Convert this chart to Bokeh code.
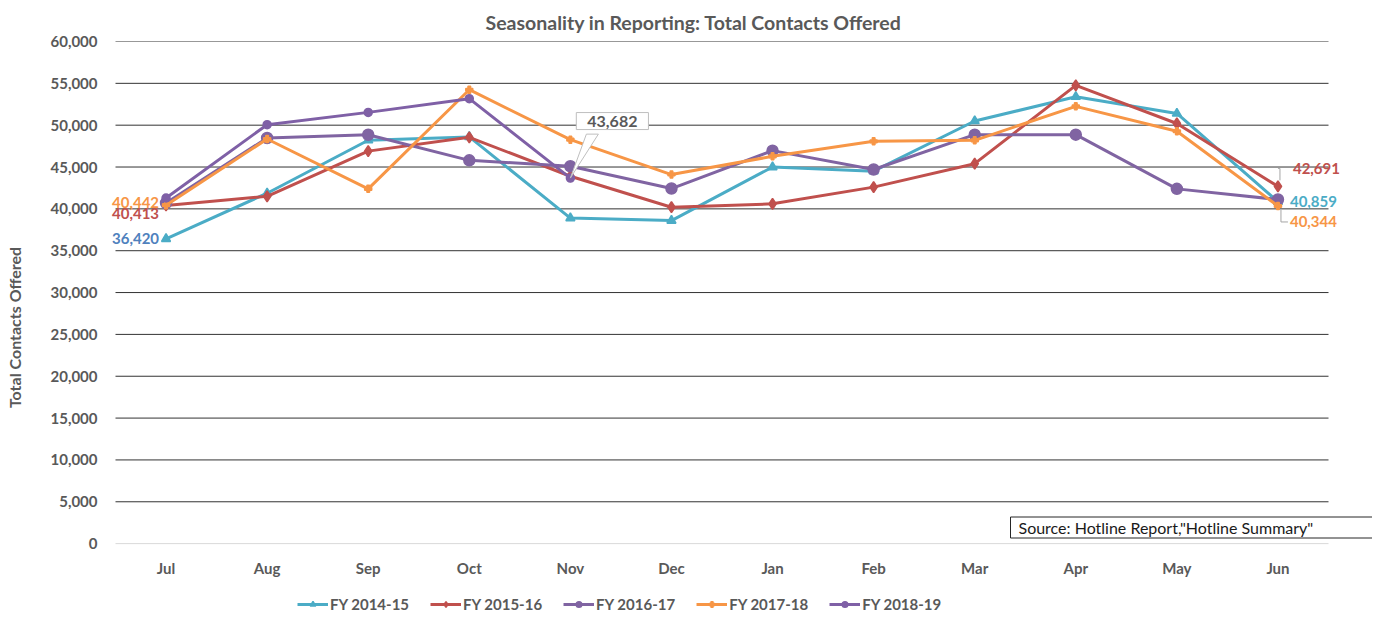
from bokeh.plotting import figure
from bokeh.models import Range1d, FixedTicker, Label, Legend, LegendItem, NumeralTickFormatter
from bokeh.embed import file_html
from bokeh.resources import INLINE

months = ["Jul", "Aug", "Sep", "Oct", "Nov", "Dec", "Jan", "Feb", "Mar", "Apr", "May", "Jun"]
fy1415 = [36420, 41870, 48200, 48600, 38900, 38600, 45000, 44500, 50500, 53400, 51400, 40859]
fy1516 = [40413, 41500, 46900, 48550, 43900, 40200, 40600, 42600, 45400, 54750, 50200, 42691]
fy1617 = [40700, 48470, 48860, 45800, 45090, 42430, 46960, 44700, 48870, 48870, 42390, 41120]
fy1718 = [40442, 48350, 42390, 54240, 48270, 44100, 46280, 48070, 48190, 52250, 49270, 40344]
fy1819 = [41300, 50060, 51530, 53170, 43682]
series_names = ["FY 2014-15", "FY 2015-16", "FY 2016-17", "FY 2017-18", "FY 2018-19"]
y_ticks = list(range(0, 60001, 5000))

TEAL = "#4BACC6"
RED = "#C0504D"
PURPLE = "#8064A2"
ORANGE = "#F79646"
PURPLE2 = "#7F60A6"
GRAY = "#595959"
FONT = "Lato"

# pixel scales of the plotting area (used only for pixel-sized offsets)
PX_X = 1213 / 12.0          # px per month
PY = 60000 / 503.0          # data units per px
ppx = 1.0 / PX_X

FRAME_LEFT = 103
x_lo = -0.5 - (115 - FRAME_LEFT) * ppx
x_hi = 11.5 + (1372 - 1328) * ppx
y_lo = -(613 - 543) * PY

p = figure(width=1372, height=613, x_range=Range1d(x_lo, x_hi), y_range=Range1d(y_lo, 60000),
           output_backend="svg", toolbar_location=None,
           min_border_left=FRAME_LEFT, min_border_right=0, min_border_top=40, min_border_bottom=0)
p.outline_line_color = None
p.background_fill_color = "white"

p.title.text = "Seasonality in Reporting: Total Contacts Offered"
p.title.align = "left"
p.title.offset = 382
p.title.text_font = FONT
p.title.text_font_size = "19.5px"
p.title.text_font_style = "bold"
p.title.text_color = GRAY
p.title.standoff = 16

p.xaxis.visible = False
p.xgrid.visible = False
p.ygrid.visible = False

p.yaxis.ticker = FixedTicker(ticks=y_ticks)
p.yaxis.formatter = NumeralTickFormatter(format="0,0")
p.yaxis.major_tick_line_color = None
p.yaxis.minor_tick_line_color = None
p.yaxis.axis_line_color = None
p.yaxis.major_label_standoff = 0
p.yaxis.major_label_text_font = FONT
p.yaxis.major_label_text_font_size = "15px"
p.yaxis.major_label_text_font_style = "bold"
p.yaxis.major_label_text_color = GRAY
p.yaxis.axis_label = "Total Contacts Offered"
p.yaxis.axis_label_text_font = FONT
p.yaxis.axis_label_text_font_size = "16px"
p.yaxis.axis_label_text_font_style = "bold"
p.yaxis.axis_label_text_color = GRAY
p.yaxis.axis_label_standoff = 23

x = list(range(len(months)))

# gridlines across the plotting area and the zero baseline
p.segment(x0=[-0.5] * (len(y_ticks) - 1), x1=[11.5] * (len(y_ticks) - 1),
          y0=y_ticks[1:], y1=y_ticks[1:], line_color="#333333", line_width=1)
p.segment(x0=[-0.5], x1=[11.5], y0=[0], y1=[0], line_color="#D9D9D9", line_width=1)

# month labels (category axis)
p.text(x=x, y=[0] * len(x), text=months, y_offset=24, text_align="center",
       text_baseline="middle", text_font={"value": FONT}, text_font_size="15px",
       text_font_style="bold", text_color=GRAY)

items = []
specs = [
    (fy1415, TEAL, "triangle", 9, series_names[0]),
    (fy1516, RED, "diamond", 11, series_names[1]),
    (fy1617, PURPLE, "circle", 11, series_names[2]),
    (fy1718, ORANGE, "plus", 7, series_names[3]),
    (fy1819, PURPLE2, "circle", 8, series_names[4]),
]
for vals, col, mk, sz, name in specs:
    xs = x[:len(vals)]
    r = p.line(xs, vals, line_color=col, line_width=3)
    m = p.scatter(xs, vals, marker=mk, size=sz, fill_color=col, line_color=col, line_width=1.5)
    items.append(LegendItem(label=name, renderers=[r, m]))

legend = Legend(items=items, orientation="horizontal", location=(297 - FRAME_LEFT, 0),
                border_line_color=None, background_fill_alpha=0, padding=0, margin=0,
                spacing=21, glyph_width=31, glyph_height=14, label_height=14, label_standoff=2,
                label_text_font=FONT, label_text_font_size="15px",
                label_text_font_style="bold", label_text_color=GRAY)
p.add_layout(legend)

# callout pointer for the last FY 2018-19 value
xi = len(fy1819) - 1
yv = fy1819[-1]
p.patch([xi, xi + 16 * ppx, xi + 28 * ppx], [yv, yv + 44 * PY, yv + 44 * PY],
        fill_color="white", line_color="#BFBFBF", line_width=1)

def lab(xv, yv, text, col, dx, dy, align):
    p.add_layout(Label(x=xv, y=yv, text=text, x_offset=dx, y_offset=dy, text_align=align,
                       text_baseline="middle", text_font=FONT, text_font_size="15px",
                       text_font_style="bold", text_color=col))

lab(0, fy1718[0], "40,442", ORANGE, -7, 3, "right")
lab(0, fy1516[0], "40,413", RED, -7, -8, "right")
lab(0, fy1415[0], "36,420", "#4F81BD", -7, 0, "right")
lab(11, fy1516[-1], "42,691", RED, 15, 18, "left")
lab(11, fy1415[-1], "40,859", TEAL, 12, 0, "left")
lab(11, fy1718[-1], "40,344", ORANGE, 12, -16, "left")

# leader lines at Jun
p.line([11, 11 + 2 * ppx, 11 + 2 * ppx], [fy1516[-1] + 18 * PY, fy1516[-1] + 18 * PY, fy1516[-1] + 6 * PY],
       line_color="#A6A6A6", line_width=1)
p.line([11 + 3 * ppx, 11 + 3 * ppx, 11 + 10 * ppx], [fy1718[-1] - 4 * PY, fy1718[-1] - 16 * PY, fy1718[-1] - 16 * PY],
       line_color="#A6A6A6", line_width=1)

p.add_layout(Label(x=xi, y=yv, text="43,682", x_offset=42, y_offset=57, text_align="center",
                   text_baseline="middle", text_font=FONT, text_font_size="16px",
                   text_font_style="bold", text_color=GRAY, background_fill_color="white",
                   border_line_color="#BFBFBF", border_line_width=1,
                   padding=dict(left=11, right=11, top=3, bottom=3)))

p.add_layout(Label(x=1010 - FRAME_LEFT, y=613 - 527, x_units="screen", y_units="screen",
                   text='Source: Hotline Report,"Hotline Summary"', text_align="left",
                   text_baseline="middle", text_font=FONT, text_font_size="16px",
                   text_color="#1a1a1a", background_fill_color="white",
                   border_line_color="#262626", border_line_width=1,
                   padding=dict(left=8, right=60, top=1, bottom=1)))

open("out.html", "w").write(file_html(p, INLINE))
